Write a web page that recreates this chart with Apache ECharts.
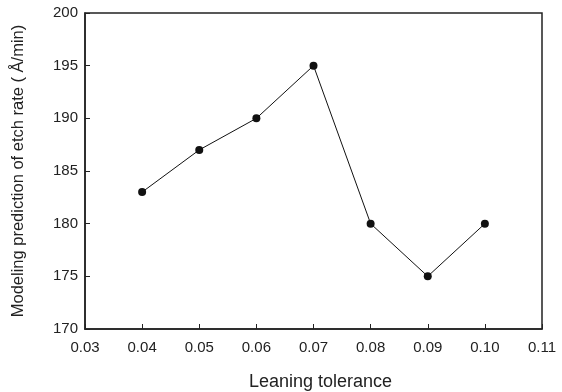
<!DOCTYPE html>
<html><head><meta charset="utf-8">
<script src="https://cdn.jsdelivr.net/npm/echarts@6/dist/echarts.min.js"></script>
<style>html,body{margin:0;padding:0;background:#fff}#c{width:562px;height:392px}</style>
</head><body><div id="c"></div>
<script>
const tolerance = [0.04, 0.05, 0.06, 0.07, 0.08, 0.09, 0.10];
const etchRate = [183, 187, 190, 195, 180, 175, 180];
const xTitle = 'Leaning tolerance';
const yTitle = 'Modeling prediction of etch rate ( Å/min)';

const chart = echarts.init(document.getElementById('c'));
const font = 'Liberation Sans, Arial, sans-serif';
chart.setOption({
  animation: false,
  grid: {left: 85, right: 20, top: 13, bottom: 63, outerBoundsMode: 'none', containLabel: false,
    show: true, borderColor: '#222', borderWidth: 1.5, backgroundColor: 'transparent'},
  xAxis: {
    type: 'value', min: 0.03, max: 0.11, interval: 0.01,
    name: xTitle, nameLocation: 'middle', nameGap: 44,
    nameTextStyle: {fontFamily: font, fontSize: 18, color: '#222', padding: [0, 0, 0, 14]},
    axisLine: {show: true, lineStyle: {color: '#222', width: 1.5}},
    axisTick: {show: true, inside: true, length: 5, lineStyle: {color: '#222'}},
    axisLabel: {fontFamily: font, fontSize: 15, color: '#222', margin: 11,
      formatter: v => v.toFixed(2)},
    splitLine: {show: false}
  },
  yAxis: {
    type: 'value', min: 170, max: 200, interval: 5,
    name: yTitle, nameLocation: 'middle', nameGap: 58,
    nameTextStyle: {fontFamily: font, fontSize: 16.5, color: '#222'},
    axisLine: {show: true, lineStyle: {color: '#222', width: 1.5}},
    axisTick: {show: true, inside: true, length: 5, lineStyle: {color: '#222'}},
    axisLabel: {fontFamily: font, fontSize: 15, color: '#222', margin: 7},
    splitLine: {show: false}
  },
  series: [{
    type: 'line',
    data: tolerance.map((x, i) => [x, etchRate[i]]),
    symbol: 'circle', symbolSize: 8,
    lineStyle: {color: '#111', width: 1},
    itemStyle: {color: '#111'}
  }]
});
</script></body></html>
